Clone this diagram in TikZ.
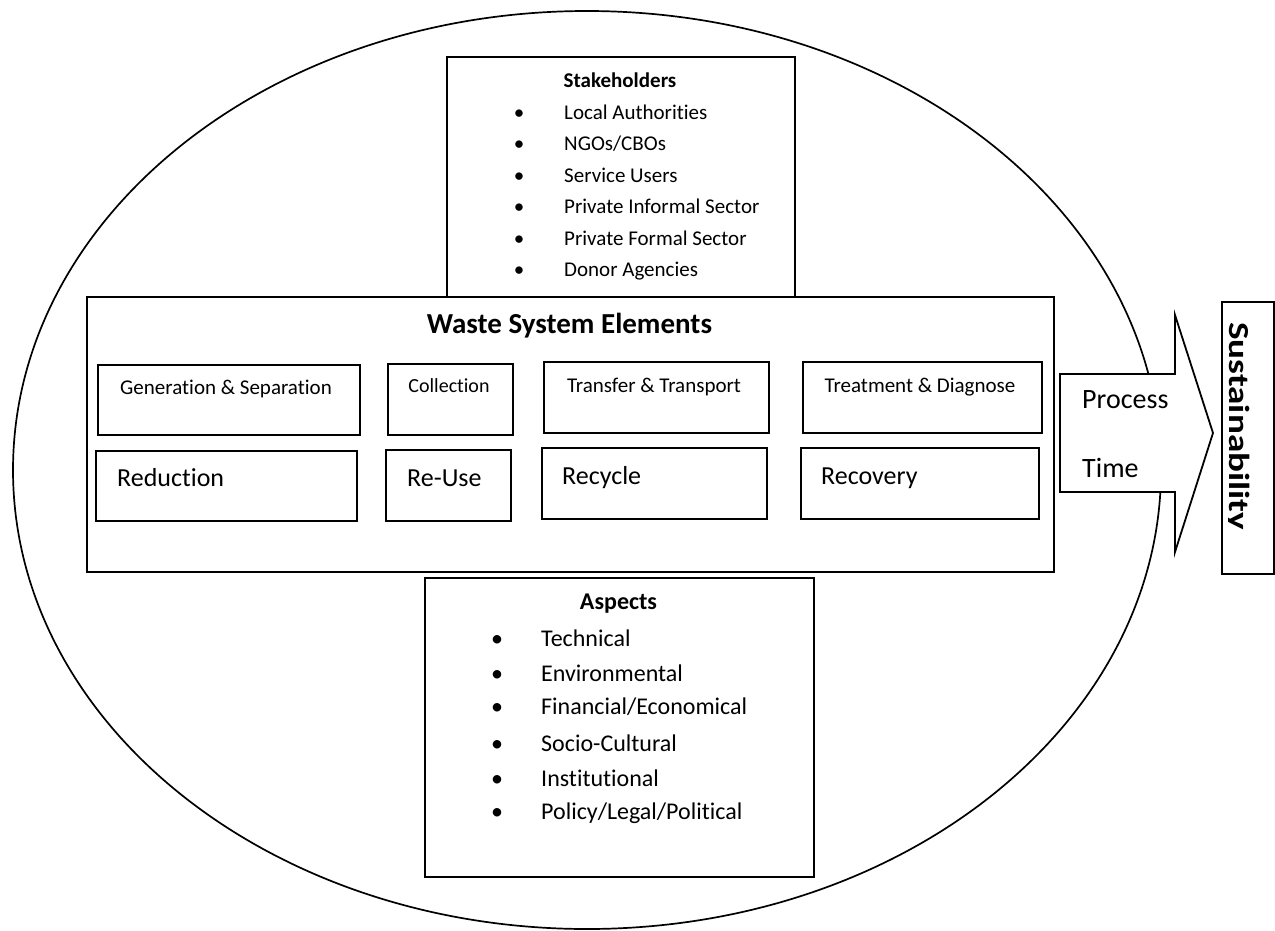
\documentclass[tikz,border=0pt]{standalone}
\usepackage{fontspec}
\setmainfont{Carlito}[Ligatures={NoCommon}]
\usetikzlibrary{shapes.geometric}
\newcommand\mybox[5]{\node[box, minimum width=#4pt, minimum height=#5pt] (#1) at (#2,#3) {};}
\begin{document}
\begin{tikzpicture}[x=1pt,y=-1pt,
  box/.style={draw, line width=1.8pt, fill=white, inner sep=0pt, anchor=north west},
  bul/.style={anchor=base, inner sep=0pt, font=\fontsize{#1}{#1}\selectfont},
  itm/.style={anchor=base west, inner sep=0pt, font=\fontsize{#1}{#1}\selectfont},
  ttl/.style={anchor=base, inner sep=0pt, font=\bfseries\fontsize{#1}{#1}\selectfont},
  elem/.style={anchor=base, inner sep=0pt, font=\fontsize{21}{21}\selectfont},
  act/.style={anchor=base west, inner sep=0pt, font=\fontsize{26}{26}\selectfont}]
\useasboundingbox (0,0) rectangle (1275,930);
% outer ellipse
\node[draw, ellipse, line width=1.7pt, minimum width=1148pt, minimum height=918pt, inner sep=0pt] (outer) at (587,470) {};
% stakeholders
\mybox{stake}{446}{56}{348}{240}
\node[ttl=21] (staket) at (620,87) {Stakeholders};
\foreach \t/\y [count=\i] in {{Local Authorities}/119, {NGOs/CBOs}/150, {Service Users}/182, {Private Informal Sector}/213, {Private Formal Sector}/245, {Donor Agencies}/276}{
  \node[bul=21] (sb\i) at (519,\y) {•};
  \node[itm=21] (si\i) at (564,\y) {\t};
}
% waste system
\mybox{waste}{86}{296}{967}{275}
\node[ttl=29] (wastet) at (569.5,333) {Waste System Elements};
\mybox{gen}{97}{364}{262}{70}
\mybox{coll}{387}{363}{125}{71}
\mybox{trans}{543}{361}{225}{71}
\mybox{treat}{802}{361}{239}{71}
\mybox{red}{95}{450}{261}{70}
\mybox{reuse}{385}{449}{125}{71}
\mybox{recyc}{541}{447}{225}{71}
\mybox{recov}{800}{447}{238}{71}
\node[elem] (gent) at (226,394) {Generation \& Separation};
\node[elem, font=\fontsize{20}{20}\selectfont] (collt) at (449,392) {Collection};
\node[elem] (transt) at (654,392) {Transfer \& Transport};
\node[elem] (treatt) at (920,392) {Treatment \& Diagnose};
\node[act] (redt) at (117,486) {Reduction};
\node[act] (reuset) at (407,486) {Re-Use};
\node[act] (recyct) at (562,484) {Recycle};
\node[act] (recovt) at (821,484) {Recovery};
% aspects
\mybox{asp}{424}{577}{389}{299}
\node[ttl=24] (aspt) at (618.5,609) {Aspects};
\foreach \t/\y [count=\i] in {{Technical}/646, {Environmental}/681, {Financial/Economical}/714, {Socio-Cultural}/751, {Institutional}/786, {Policy/Legal/Political}/819}{
  \node[bul=24] (ab\i) at (497,\y) {•};
  \node[itm=24] (ai\i) at (541,\y) {\t};
}
% arrow
\draw[line width=1.8pt, fill=white, line join=miter] (1060,374) -- (1175,374) -- (1175,315) -- (1213,433) -- (1175,552) -- (1175,492) -- (1060,492) -- cycle;
\node[itm=28] (proc) at (1082,408) {Process};
\node[itm=28] (time) at (1082,477) {Time};
% sustainability
\mybox{sust}{1221}{301}{52}{272}
\begin{scope}
\clip (1228,303) rectangle (1272,571);
\node[rotate=-90, anchor=base west, inner sep=0pt, font=\bfseries\fontsize{29}{29}\selectfont] (sustt) at (1229,322) {\scalebox{1.28}[1]{Sustainability}};
\end{scope}
\end{tikzpicture}
\end{document}
